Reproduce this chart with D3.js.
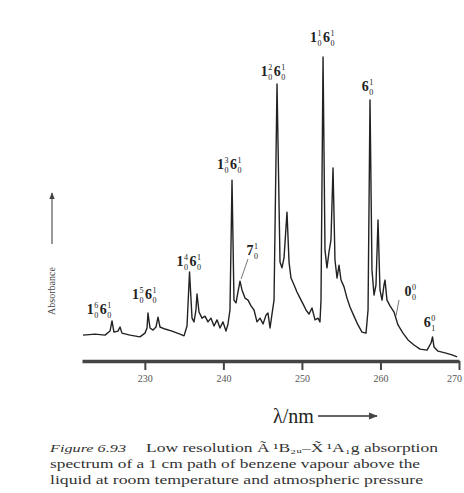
<!DOCTYPE html>
<html>
<head>
<meta charset="utf-8">
<script src="https://cdn.jsdelivr.net/npm/d3@7"></script>
<style>
  body { margin: 0; background: #fff; }
  text { font-family: "Liberation Serif", "DejaVu Serif", serif; }
</style>
</head>
<body>
<div id="chart"></div>
<script>
// spectrum (nm, arbitrary absorbance)
var wavelength = [222.13, 223.66, 224.93, 225.57, 225.82, 226.07, 226.58, 226.84, 227.09, 228.11,
    229.38, 230.02, 230.28, 230.40, 230.66, 231.04, 231.42, 231.68, 231.93, 232.57,
    233.46, 234.48, 234.99, 235.37, 235.69, 236.01, 236.26, 236.51, 236.64, 236.90,
    237.28, 237.66, 238.04, 238.42, 238.81, 239.19, 239.57, 239.95, 240.33, 240.59,
    240.84, 241.10, 241.35, 241.61, 241.86, 242.12, 242.37, 242.75, 243.14, 243.52,
    243.90, 244.28, 244.66, 245.05, 245.43, 245.68, 245.94, 246.19, 246.45, 246.83,
    247.21, 247.46, 247.72, 248.10, 248.36, 248.61, 248.99, 249.37, 249.76, 250.14,
    250.52, 250.90, 251.28, 251.67, 252.05, 252.30, 252.43, 252.69, 252.94, 253.19,
    253.45, 253.70, 253.96, 254.21, 254.47, 254.72, 254.98, 255.36, 255.74, 256.12,
    256.63, 257.14, 257.65, 258.16, 258.42, 258.67, 258.92, 259.18, 259.43, 259.69,
    259.94, 260.20, 260.45, 260.58, 260.83, 261.22, 261.73, 262.23, 262.87, 263.51,
    264.27, 265.04, 265.93, 266.44, 266.63, 266.82, 267.33, 268.22, 269.11, 269.75];
var absorbance = [0.076, 0.079, 0.076, 0.088, 0.118, 0.085, 0.088, 0.100, 0.082, 0.076,
    0.071, 0.082, 0.097, 0.141, 0.097, 0.091, 0.100, 0.129, 0.100, 0.094,
    0.088, 0.079, 0.074, 0.103, 0.262, 0.126, 0.115, 0.150, 0.197, 0.144,
    0.126, 0.132, 0.115, 0.126, 0.103, 0.121, 0.097, 0.115, 0.088, 0.109,
    0.150, 0.532, 0.179, 0.171, 0.203, 0.235, 0.209, 0.185, 0.179, 0.162,
    0.150, 0.115, 0.126, 0.109, 0.135, 0.141, 0.097, 0.138, 0.179, 0.815,
    0.291, 0.274, 0.303, 0.438, 0.291, 0.244, 0.224, 0.203, 0.185, 0.168,
    0.150, 0.138, 0.156, 0.121, 0.126, 0.115, 0.179, 0.894, 0.326, 0.274,
    0.321, 0.356, 0.568, 0.297, 0.244, 0.282, 0.238, 0.218, 0.185, 0.159,
    0.132, 0.106, 0.085, 0.082, 0.150, 0.768, 0.268, 0.194, 0.224, 0.415,
    0.209, 0.179, 0.224, 0.238, 0.179, 0.162, 0.144, 0.106, 0.082, 0.062,
    0.047, 0.035, 0.032, 0.053, 0.071, 0.041, 0.029, 0.024, 0.018, 0.012];

var tickValues = [230, 240, 250, 260, 270];

// band assignments: [base, subscript, superscript] pieces
var bandNames = [
    [["1", "0", "6"], ["6", "0", "1"]],
    [["1", "0", "5"], ["6", "0", "1"]],
    [["1", "0", "4"], ["6", "0", "1"]],
    [["1", "0", "3"], ["6", "0", "1"]],
    [["7", "0", "1"]],
    [["1", "0", "2"], ["6", "0", "1"]],
    [["1", "0", "1"], ["6", "0", "1"]],
    [["6", "0", "1"]],
    [["0", "0", "0"]],
    [["6", "1", "0"]]
];
var bandWavelength = [225.8, 230.4, 235.7, 241.1, 242.1, 246.8, 252.7, 258.7, 262.2, 266.6];

var captionLines = [
    "Low resolution \u00C3\u2009\u00B9B\u2082\u1D64\u2013X\u0303\u2009\u00B9A\u2081g absorption",
    "spectrum of a 1 cm path of benzene vapour above the",
    "liquid at room temperature and atmospheric pressure"
];

var W = 464, H = 493;
var svg = d3.select("#chart")
    .append("svg")
    .attr("width", W)
    .attr("height", H);

svg.append("rect").attr("width", W).attr("height", H).attr("fill", "#fff");

var x = d3.scaleLinear().domain([222, 270]).range([82, 459]);
var y = d3.scaleLinear().domain([0, 1]).range([361, 21]);

var ink = "#222";

// spectrum trace
var points = wavelength.map(function (w, i) { return [w, absorbance[i]]; });
var line = d3.line()
    .x(function (d) { return x(d[0]); })
    .y(function (d) { return y(d[1]); });

svg.append("path")
    .datum(points)
    .attr("d", line)
    .attr("fill", "none")
    .attr("stroke", ink)
    .attr("stroke-width", 1.4)
    .attr("stroke-linejoin", "round");

// x axis
var axis = svg.append("g")
    .attr("transform", "translate(0," + y(0) + ")")
    .call(d3.axisBottom(x).tickValues(tickValues).tickSize(9).tickSizeOuter(0).tickPadding(5));
axis.select(".domain").attr("stroke", "#444").attr("stroke-width", 3.5);
axis.selectAll(".tick line").attr("stroke", "#444").attr("stroke-width", 2);
axis.selectAll(".tick text")
    .attr("font-family", "Liberation Serif, serif")
    .attr("font-size", "10px")
    .attr("fill", "#555")
    .attr("dx", function (d) { return d === 270 ? -5 : 0; });

// band labels
var labelDx = [-12, -3, 0, -2, 0, -3, 0, -2, 0, -2];
var labelGap = [7, 14, 6, 11, 0, 8, 15, 9, 0, 10];
var labelY = [null, null, null, null, 255, null, null, null, 296, null];
var labelXabs = [null, null, null, null, 253, null, null, null, 411, null];

function peakAbs(w) {
    var best = 0;
    for (var i = 0; i < wavelength.length; i++) {
        if (Math.abs(wavelength[i] - w) < 0.35 && absorbance[i] > best) best = absorbance[i];
    }
    return best;
}

function drawLabel(pieces, cx, by) {
    var g = svg.append("g");
    var cur = 0;
    pieces.forEach(function (p) {
        var b = g.append("text").attr("x", cur).attr("y", 0)
            .attr("font-size", "14px").attr("font-weight", "bold").attr("fill", ink).text(p[0]);
        cur += b.node().getComputedTextLength() + 0.5;
        var sup = g.append("text").attr("x", cur).attr("y", -6)
            .attr("font-size", "8px").attr("fill", ink).text(p[2]);
        var sub = g.append("text").attr("x", cur).attr("y", 4)
            .attr("font-size", "8px").attr("fill", ink).text(p[1]);
        cur += Math.max(sup.node().getComputedTextLength(), sub.node().getComputedTextLength()) + 1.5;
    });
    g.attr("transform", "translate(" + (cx - cur / 2) + "," + by + ")");
}

bandNames.forEach(function (pieces, i) {
    var cx = labelXabs[i] != null ? labelXabs[i] : x(bandWavelength[i]) + labelDx[i];
    var by = labelY[i] != null ? labelY[i] : y(peakAbs(bandWavelength[i])) - labelGap[i];
    drawLabel(pieces, cx, by);
});

// pointer ticks from the small labels to their bands
svg.append("line")
    .attr("x1", 248).attr("y1", 259).attr("x2", x(242.12) + 1).attr("y2", y(0.235) - 2)
    .attr("stroke", "#777").attr("stroke-width", 1);
svg.append("line")
    .attr("x1", 399).attr("y1", 300).attr("x2", 396).attr("y2", 316)
    .attr("stroke", "#777").attr("stroke-width", 1);

// y label with arrow
svg.append("text")
    .attr("transform", "translate(55,291) rotate(-90)")
    .attr("text-anchor", "middle")
    .attr("font-size", "10px")
    .attr("fill", "#444")
    .text("Absorbance");

var defs = svg.append("defs");
defs.append("marker")
    .attr("id", "arr")
    .attr("viewBox", "0 0 10 10")
    .attr("refX", 9).attr("refY", 5)
    .attr("markerWidth", 6).attr("markerHeight", 6)
    .attr("orient", "auto")
    .append("path").attr("d", "M0,1 L10,5 L0,9 z").attr("fill", "#444");

svg.append("line")
    .attr("x1", 52).attr("y1", 244).attr("x2", 52).attr("y2", 193)
    .attr("stroke", "#555").attr("stroke-width", 1.2)
    .attr("marker-end", "url(#arr)");

// x label with arrow
svg.append("text")
    .attr("x", 273).attr("y", 423)
    .attr("font-size", "20px")
    .attr("fill", "#222")
    .text("\u03BB/nm");
svg.append("line")
    .attr("x1", 318).attr("y1", 416).attr("x2", 377).attr("y2", 416)
    .attr("stroke", "#333").attr("stroke-width", 1.5)
    .attr("marker-end", "url(#arr)");

// caption
svg.append("text")
    .attr("x", 50).attr("y", 452)
    .attr("font-size", "11px").attr("font-style", "italic").attr("fill", "#333")
    .attr("textLength", 76).attr("lengthAdjust", "spacingAndGlyphs")
    .text("Figure 6.93");
svg.append("text")
    .attr("x", 146).attr("y", 452)
    .attr("font-size", "12.5px").attr("fill", "#333")
    .attr("textLength", 292).attr("lengthAdjust", "spacingAndGlyphs")
    .text(captionLines[0]);
svg.append("text")
    .attr("x", 50).attr("y", 468)
    .attr("font-size", "12.5px").attr("fill", "#333")
    .attr("textLength", 370).attr("lengthAdjust", "spacingAndGlyphs")
    .text(captionLines[1]);
svg.append("text")
    .attr("x", 50).attr("y", 484)
    .attr("font-size", "12.5px").attr("fill", "#333")
    .attr("textLength", 373).attr("lengthAdjust", "spacingAndGlyphs")
    .text(captionLines[2]);
</script>
</body>
</html>
